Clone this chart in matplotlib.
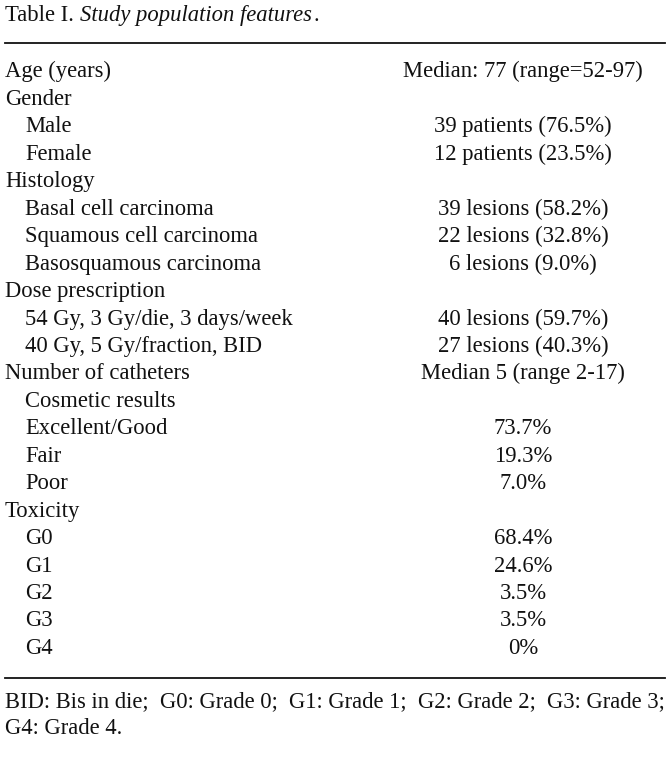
import matplotlib
matplotlib.use("Agg")
import matplotlib.pyplot as plt

# table content
labels = ["Age (years)", "Gender", "Male", "Female", "Histology",
          "Basal cell carcinoma", "Squamous cell carcinoma", "Basosquamous carcinoma",
          "Dose prescription", "54 Gy, 3 Gy/die, 3 days/week", "40 Gy, 5 Gy/fraction, BID",
          "Number of catheters", "Cosmetic results", "Excellent/Good", "Fair", "Poor",
          "Toxicity", "G0", "G1", "G2", "G3", "G4"]
values = ["Median: 77 (range=52-97)", "", "39 patients (76.5%)", "12 patients (23.5%)", "",
          "39 lesions (58.2%)", "22 lesions (32.8%)", "6 lesions (9.0%)",
          "", "40 lesions (59.7%)", "27 lesions (40.3%)",
          "Median 5 (range 2-17)", "", "73.7%", "19.3%", "7.0%",
          "", "68.4%", "24.6%", "3.5%", "3.5%", "0%"]
indented = [False, False, True, True, False, True, True, True, False, True, True,
            False, True, True, True, True, False, True, True, True, True, True]
title_plain = "Table I. "
title_italic = "Study population features"
footnote = ["BID: Bis in die; G0: Grade 0; G1: Grade 1; G2: Grade 2; G3: Grade 3;",
            "G4: Grade 4."]

W, H = 670, 764
fig = plt.figure(figsize=(W / 100, H / 100), dpi=100)
ax = fig.add_axes([0, 0, 1, 1])
ax.set_xlim(0, W)
ax.set_ylim(H, 0)
ax.axis("off")

font = "Liberation Serif"
fs = 16.3
col = "#111111"

def txt(x, y, s, **kw):
    return ax.text(x, y, s, fontsize=fs, family=font, va="baseline", color=col, **kw)

# title: plain part, italic part, then the period
fig.canvas.draw()
r = fig.canvas.get_renderer()
t = txt(5, 21, title_plain)
x = 5 + t.get_window_extent(r).width
t = txt(x, 21, title_italic, style="italic")
x += t.get_window_extent(r).width + 2.5
txt(x, 21, ".")

ax.plot([5, 665], [42.5, 42.5], color=col, lw=1.3)
ax.plot([5, 665], [677.5, 677.5], color=col, lw=1.3)

y0, dy = 77.5, 27.45
for i, (lab, val, ind) in enumerate(zip(labels, values, indented)):
    y = y0 + i * dy
    txt(25 if ind else 5, y, lab)
    if val:
        txt(523, y, val, ha="center")

# first footnote line is justified across the full width (split at the semicolons)
segs = [s + ";" for s in footnote[0].rstrip(";").split("; ")]
widths = []
for s in segs:
    tt = txt(0, 0, s)
    widths.append(tt.get_window_extent(r).width)
    tt.remove()
gap = (665 - 5 - sum(widths)) / (len(segs) - 1)
x = 5
for s, wd in zip(segs, widths):
    txt(x, 707, s)
    x += wd + gap
txt(5, 734, footnote[1])

fig.savefig("out.png", dpi=100)
